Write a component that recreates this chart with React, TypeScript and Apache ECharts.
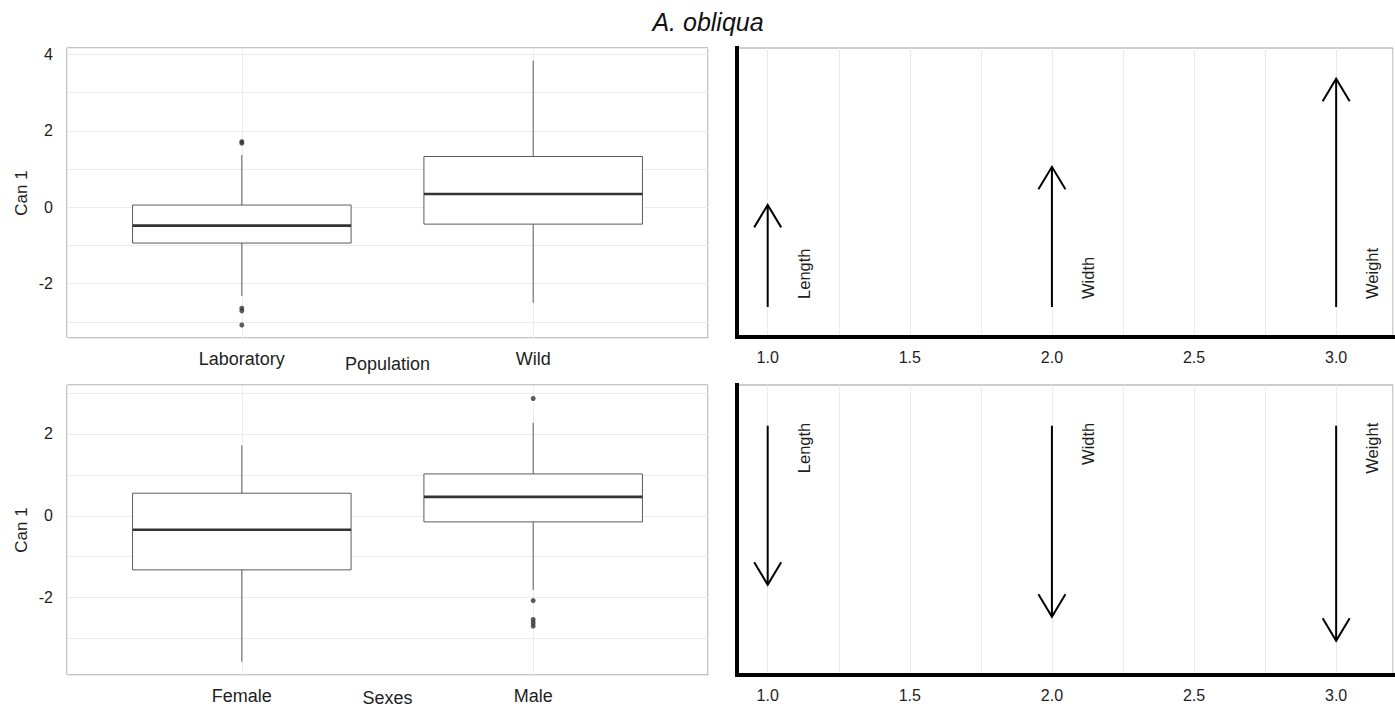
import React, { useEffect, useRef } from 'react';
import * as echarts from 'echarts';

// ---------- data ----------
const populationCategories = ['Laboratory', 'Wild'];
const populationLowerWhisker = [-2.32, -2.5];
const populationQ1 = [-0.935, -0.44];
const populationMedian = [-0.48, 0.35];
const populationQ3 = [0.06, 1.33];
const populationUpperWhisker = [1.37, 3.84];
const populationOutlierGroup = ['Laboratory', 'Laboratory', 'Laboratory', 'Laboratory', 'Laboratory'];
const populationOutlierValue = [1.72, 1.68, -2.64, -2.71, -3.08];

const sexCategories = ['Female', 'Male'];
const sexLowerWhisker = [-3.56, -1.81];
const sexQ1 = [-1.32, -0.15];
const sexMedian = [-0.34, 0.46];
const sexQ3 = [0.55, 1.02];
const sexUpperWhisker = [1.72, 2.27];
const sexOutlierGroup = ['Male', 'Male', 'Male', 'Male', 'Male'];
const sexOutlierValue = [2.86, -2.07, -2.53, -2.61, -2.69];

const variableNames = ['Length', 'Width', 'Weight'];
const variablePositions = [1, 2, 3];
const populationLoadings = [1.02, 1.4, 2.28];
const sexLoadings = [-1.59, -1.91, -2.15];

const xTickLabelsRight = ['1.0', '1.5', '2.0', '2.5', '3.0'];

// ---------- styles ----------
const FONT = '"Liberation Sans", Arial, Helvetica, sans-serif';
const TEXT = '#1e1e1e';
const GRIDLINE = '#ebebeb';
const BORDER = '#8a8a8a';
const BOX_WIDTH = 0.75;

function boxRows(lo: number[], q1: number[], med: number[], q3: number[], hi: number[]) {
  return lo.map((_, i) => [i + 1, lo[i], q1[i], med[i], q3[i], hi[i]]);
}

function outlierRows(groups: string[], values: number[], cats: string[]) {
  return groups.map((g, i) => [cats.indexOf(g) + 1, values[i]]);
}

function renderBox(_params: any, api: any) {
  const x = api.value(0);
  const pLo = api.coord([x, api.value(1)]);
  const pQ1 = api.coord([x, api.value(2)]);
  const pMed = api.coord([x, api.value(3)]);
  const pQ3 = api.coord([x, api.value(4)]);
  const pHi = api.coord([x, api.value(5)]);
  const halfW = api.size([BOX_WIDTH, 0])[0] / 2;
  const cx = pMed[0];
  const whisker = { stroke: '#5c5c5c', lineWidth: 1 };
  return {
    type: 'group',
    children: [
      { type: 'line', shape: { x1: cx, y1: pHi[1], x2: cx, y2: pQ3[1] }, style: whisker },
      { type: 'line', shape: { x1: cx, y1: pQ1[1], x2: cx, y2: pLo[1] }, style: whisker },
      {
        type: 'rect',
        shape: { x: cx - halfW, y: pQ3[1], width: 2 * halfW, height: pQ1[1] - pQ3[1] },
        style: { fill: '#fff', stroke: '#5c5c5c', lineWidth: 1 },
      },
      {
        type: 'line',
        shape: { x1: cx - halfW, y1: pMed[1], x2: cx + halfW, y2: pMed[1] },
        style: { stroke: '#333', lineWidth: 2.6 },
      },
    ],
  };
}

function makeArrowRenderer(names: string[]) {
  return (params: any, api: any) => {
    const x = api.value(0);
    const tip = api.value(1);
    const p0 = api.coord([x, 0]);
    const p1 = api.coord([x, tip]);
    const up = p1[1] < p0[1];
    const dir = up ? 1 : -1;
    const arm = { stroke: '#000', lineWidth: 2, fill: 'none', lineJoin: 'miter' };
    return {
      type: 'group',
      children: [
        { type: 'line', shape: { x1: p0[0], y1: p0[1], x2: p1[0], y2: p1[1] }, style: { stroke: '#000', lineWidth: 2 } },
        {
          type: 'polyline',
          shape: {
            points: [
              [p1[0] - 13.5, p1[1] + dir * 22.5],
              [p1[0], p1[1]],
              [p1[0] + 13.5, p1[1] + dir * 22.5],
            ],
          },
          style: arm,
        },
        {
          type: 'text',
          x: p0[0] + 36,
          y: up ? p0[1] - 8 : p0[1] - 3,
          rotation: Math.PI / 2,
          style: {
            text: names[params.dataIndex],
            fill: TEXT,
            font: `16.5px ${FONT}`,
            align: up ? 'left' : 'right',
            verticalAlign: 'middle',
          },
        },
      ],
    };
  };
}

function leftXAxis(gridIndex: number, cats: string[], name: string, nameGap: number) {
  return {
    type: 'value',
    gridIndex,
    min: 0.4,
    max: 2.6,
    minInterval: 1,
    maxInterval: 1,
    axisLine: { show: false, onZero: false },
    axisTick: { show: false },
    splitLine: { show: true, lineStyle: { color: GRIDLINE, width: 1 } },
    axisLabel: {
      margin: 12,
      color: TEXT,
      fontSize: 18,
      fontFamily: FONT,
      formatter: (v: number) => {
        const r = Math.round(v);
        return Math.abs(v - r) < 1e-6 && r >= 1 && r <= cats.length ? cats[r - 1] : '';
      },
    },
    name,
    nameLocation: 'middle',
    nameGap,
    nameMoveOverlap: false,
    nameTextStyle: { color: TEXT, fontSize: 18, fontFamily: FONT },
  };
}

function leftYAxis(gridIndex: number, min: number, max: number) {
  return {
    type: 'value',
    gridIndex,
    min,
    max,
    minInterval: 1,
    maxInterval: 1,
    axisLine: { show: false, onZero: false },
    axisTick: { show: false },
    splitLine: { show: true, lineStyle: { color: GRIDLINE, width: 1 } },
    axisLabel: {
      margin: 14,
      color: TEXT,
      fontSize: 16,
      fontFamily: FONT,
      formatter: (v: number) => {
        const r = Math.round(v);
        return Math.abs(v - r) < 1e-6 && r % 2 === 0 ? String(r) : '';
      },
    },
    name: 'Can 1',
    nameLocation: 'middle',
    nameRotate: 90,
    nameGap: 37,
    nameMoveOverlap: false,
    nameTextStyle: { color: TEXT, fontSize: 17, fontFamily: FONT },
  };
}

function rightXAxis(gridIndex: number) {
  return {
    type: 'value',
    gridIndex,
    min: 0.892,
    max: 3.2,
    minInterval: 0.25,
    maxInterval: 0.25,
    axisLine: { show: true, onZero: false, lineStyle: { color: '#000', width: 4, cap: 'square' } },
    axisTick: { show: false },
    splitLine: { show: true, lineStyle: { color: GRIDLINE, width: 1 } },
    axisLabel: {
      margin: 12,
      color: TEXT,
      fontSize: 16,
      fontFamily: FONT,
      formatter: (v: number) => {
        const label = v.toFixed(1);
        return Math.abs(v * 2 - Math.round(v * 2)) < 1e-6 && xTickLabelsRight.includes(label) ? label : '';
      },
    },
  };
}

function rightYAxis(gridIndex: number, min: number, max: number) {
  return {
    type: 'value',
    gridIndex,
    min,
    max,
    axisLine: { show: true, onZero: false, lineStyle: { color: '#000', width: 4, cap: 'square' } },
    axisTick: { show: false },
    axisLabel: { show: false },
    splitLine: { show: false },
  };
}

const option: any = {
  animation: false,
  backgroundColor: '#fff',
  graphic: [
    {
      type: 'text',
      x: 708,
      y: 22,
      style: {
        text: 'A. obliqua',
        fill: '#111',
        font: `italic 25px ${FONT}`,
        align: 'center',
        verticalAlign: 'middle',
      },
    },
  ],
  grid: [
    { left: 67, top: 48, width: 641, height: 290, show: true, borderColor: BORDER, borderWidth: 1, backgroundColor: 'transparent', outerBoundsMode: 'none' },
    { left: 737, top: 48, width: 656, height: 289, show: true, borderColor: '#9a9a9a', borderWidth: 1, backgroundColor: 'transparent', outerBoundsMode: 'none' },
    { left: 67, top: 385, width: 641, height: 290, show: true, borderColor: BORDER, borderWidth: 1, backgroundColor: 'transparent', outerBoundsMode: 'none' },
    { left: 737, top: 385, width: 656, height: 290, show: true, borderColor: '#9a9a9a', borderWidth: 1, backgroundColor: 'transparent', outerBoundsMode: 'none' },
  ],
  xAxis: [
    leftXAxis(0, populationCategories, 'Population', 17),
    rightXAxis(1),
    leftXAxis(2, sexCategories, 'Sexes', 14),
    rightXAxis(3),
  ],
  yAxis: [
    leftYAxis(0, -3.42, 4.17),
    rightYAxis(1, -0.3, 2.587),
    leftYAxis(2, -3.885, 3.19),
    rightYAxis(3, -2.493, 0.407),
  ],
  series: [
    {
      type: 'custom',
      xAxisIndex: 0,
      yAxisIndex: 0,
      silent: true,
      renderItem: renderBox,
      encode: { x: 0, y: [1, 2, 3, 4, 5] },
      data: boxRows(populationLowerWhisker, populationQ1, populationMedian, populationQ3, populationUpperWhisker),
      z: 2,
    },
    {
      type: 'scatter',
      xAxisIndex: 0,
      yAxisIndex: 0,
      silent: true,
      symbol: 'circle',
      symbolSize: 5,
      itemStyle: { color: '#333' },
      data: outlierRows(populationOutlierGroup, populationOutlierValue, populationCategories),
      z: 3,
    },
    {
      type: 'custom',
      xAxisIndex: 2,
      yAxisIndex: 2,
      silent: true,
      renderItem: renderBox,
      encode: { x: 0, y: [1, 2, 3, 4, 5] },
      data: boxRows(sexLowerWhisker, sexQ1, sexMedian, sexQ3, sexUpperWhisker),
      z: 2,
    },
    {
      type: 'scatter',
      xAxisIndex: 2,
      yAxisIndex: 2,
      silent: true,
      symbol: 'circle',
      symbolSize: 5,
      itemStyle: { color: '#333' },
      data: outlierRows(sexOutlierGroup, sexOutlierValue, sexCategories),
      z: 3,
    },
    {
      type: 'custom',
      xAxisIndex: 1,
      yAxisIndex: 1,
      silent: true,
      renderItem: makeArrowRenderer(variableNames),
      encode: { x: 0, y: 1 },
      data: variablePositions.map((p, i) => [p, populationLoadings[i]]),
      z: 2,
    },
    {
      type: 'custom',
      xAxisIndex: 3,
      yAxisIndex: 3,
      silent: true,
      renderItem: makeArrowRenderer(variableNames),
      encode: { x: 0, y: 1 },
      data: variablePositions.map((p, i) => [p, sexLoadings[i]]),
      z: 2,
    },
  ],
};

export default function App() {
  const ref = useRef<HTMLDivElement>(null);
  useEffect(() => {
    if (!ref.current) return;
    const chart = echarts.init(ref.current, null, { renderer: 'svg' });
    chart.setOption(option);
    return () => chart.dispose();
  }, []);
  return (
    <div
      ref={ref}
      style={{ position: 'fixed', left: 0, top: 0, width: 1395, height: 709, background: '#fff' }}
    />
  );
}
